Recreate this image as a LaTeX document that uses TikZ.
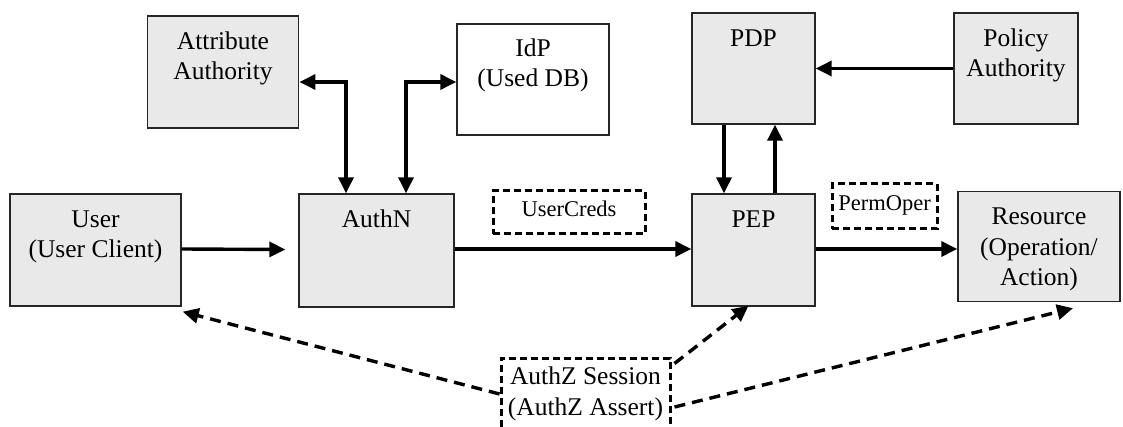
\documentclass[tikz,border=0pt]{standalone}
\usepackage{fontspec}
\setmainfont{Liberation Serif}
\usetikzlibrary{arrows.meta}
\begin{document}
\begin{tikzpicture}[x=1pt,y=-1pt,
  box/.style={draw=black!85, line width=1.4pt, fill=gray!17, inner sep=0pt},
  wbox/.style={box, fill=white},
  tagbox/.style={draw=black, line width=3pt, dash pattern=on 7pt off 4pt, inner sep=0pt},
  lbl/.style={anchor=base, align=center, inner sep=0pt, font=\fontsize{25.5}{30.5}\selectfont},
  slbl/.style={lbl, font=\fontsize{22.5}{27}\selectfont},
  tip/.tip={Triangle[length=16pt,width=15pt]},
  arr/.style={line width=3.4pt, -tip},
  barr/.style={line width=3.4pt, tip-tip},
  darr/.style={arr, dash pattern=on 11pt off 7pt}]
\clip (0,0) rectangle (1123,427);

% component boxes
\node[box,  minimum width=151.5pt, minimum height=112pt] (aa)    at (223,72)     {};
\node[wbox, minimum width=152pt,   minimum height=111pt] (idp)   at (533,79.5)   {};
\node[box,  minimum width=123pt,   minimum height=111pt] (pdp)   at (753.5,68.5) {};
\node[box,  minimum width=124pt,   minimum height=111pt] (pa)    at (1016,68.5)  {};
\node[box,  minimum width=171pt,   minimum height=112pt] (user)  at (95.5,250)   {};
\node[box,  minimum width=155pt,   minimum height=113pt] (authn) at (376.5,250.5){};
\node[box,  minimum width=123pt,   minimum height=112pt] (pep)   at (753.5,250)  {};
\node[box,  minimum width=162pt,   minimum height=110pt] (res)   at (1039,246.5) {};

% message tags
\node[tagbox, minimum width=152pt, minimum height=43pt] (creds) at (569,212.5)  {};
\node[tagbox, minimum width=105pt, minimum height=45pt] (perm)  at (884.5,206.5){};
\node[tagbox, minimum width=169pt, minimum height=84pt] (authz) at (585.5,400)  {};

% texts (the base anchor sits on the last line)
\node[lbl] (aa-t)    at ([yshift=-64.5pt]aa.north)   {Attribute\\Authority};
\node[lbl] (idp-t)   at ([yshift=-63.5pt]idp.north)  {IdP\\(Used DB)};
\node[lbl] (pdp-t)   at ([yshift=-34pt]pdp.north)    {PDP};
\node[lbl] (pa-t)    at ([yshift=-64.5pt]pa.north)   {Policy\\Authority};
\node[lbl] (user-t)  at ([yshift=-64.5pt]user.north) {User\\(User Client)};
\node[lbl] (authn-t) at ([yshift=-34pt]authn.north)  {AuthN};
\node[lbl] (pep-t)   at ([yshift=-34pt]pep.north)    {PEP};
\node[lbl] (res-t)   at ([yshift=-95pt]res.north)    {Resource\\(Operation/\\Action)};
\node[slbl] (creds-t) at ([yshift=-27pt]creds.north) {UserCreds};
\node[slbl] (perm-t)  at ([yshift=-28pt]perm.north)  {PermOper};
\node[lbl] (authz-t) at ([yshift=-58.5pt]authz.north) {AuthZ Session\\(AuthZ Assert)};

% solid flows
\draw[arr] ([yshift=1pt]user.east) -- ([xshift=-13pt,yshift=1pt]authn.west);
\draw[arr] ([yshift=1.5pt]authn.east) -- ([yshift=1.5pt]authn.east -| pep.west);
\draw[arr] ([yshift=1pt]pep.east) -- ([yshift=1pt]pep.east -| res.west);
\draw[barr] ([yshift=-10pt]aa.east) -| ([xshift=-30.5pt]authn.north);
\draw[barr] ([xshift=29.5pt]authn.north) |- ([yshift=-2.5pt]idp.west);
\draw[arr] (pa.west) -- (pdp.east);
\draw[arr] ([xshift=-29.5pt]pdp.south) -- ([xshift=-29.5pt]pep.north);
\draw[arr] ([xshift=21.5pt]pep.north) -- ([xshift=21.5pt]pdp.south);

% session assertion distribution
\draw[darr] ([yshift=6pt]authz.west) -- ([xshift=1pt,yshift=-5pt]user.south east);
\draw[darr] ([xshift=3pt,yshift=-7pt]authz.north east) -- ([xshift=-5pt,yshift=1pt]pep.south);
\draw[darr] ([xshift=3pt,yshift=-7pt]authz.east) -- ([xshift=34pt,yshift=-6pt]res.south);
\end{tikzpicture}
\end{document}
